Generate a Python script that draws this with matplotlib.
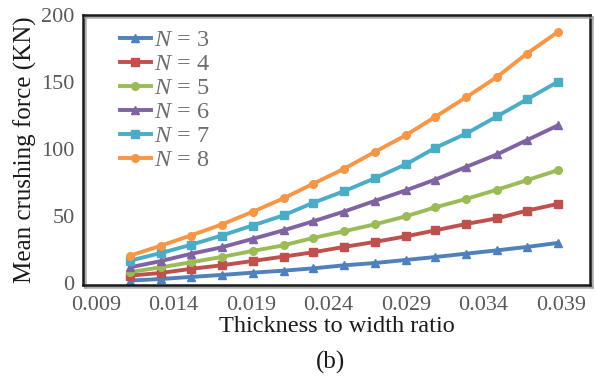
import numpy as np
import matplotlib
matplotlib.use('Agg')
import matplotlib.pyplot as plt
import matplotlib.patheffects as pe

plt.rcParams['font.family'] = ['Liberation Serif', 'DejaVu Serif']
plt.rcParams['mathtext.fontset'] = 'custom'
plt.rcParams['mathtext.it'] = 'Liberation Serif:italic'
plt.rcParams['mathtext.rm'] = 'Liberation Serif'

# thickness to width ratio
ratio = [0.0112, 0.0132, 0.0151, 0.0171, 0.0191, 0.0211, 0.0230, 0.0250,
         0.0270, 0.0290, 0.0309, 0.0329, 0.0349, 0.0368, 0.0388]

# mean crushing force (KN)
n3 = [1.8, 3.0, 4.5, 6.0, 7.7, 9.2, 10.9, 13.2, 14.9, 17.2, 19.4, 21.9, 24.4, 26.9, 29.9]
n4 = [5.5, 7.5, 10.5, 13.2, 16.4, 19.7, 22.9, 26.9, 30.7, 34.8, 39.3, 44.1, 48.3, 54.0, 59.0]
n5 = [8.2, 11.7, 15.4, 19.4, 23.9, 28.1, 33.6, 38.6, 43.8, 49.8, 56.5, 62.8, 69.7, 76.7, 84.2]
n6 = [11.7, 16.4, 21.7, 26.6, 32.9, 39.3, 46.0, 53.3, 61.3, 69.2, 77.2, 86.7, 96.1, 106.6, 117.6]
n7 = [16.7, 22.4, 28.4, 35.4, 42.9, 50.5, 59.8, 68.5, 78.2, 88.6, 100.9, 111.6, 124.5, 137.0, 150.2]
n8 = [20.4, 27.9, 35.4, 43.6, 53.1, 63.2, 74.0, 85.2, 97.9, 110.3, 124.1, 138.7, 154.0, 171.2, 187.3]

labels = ['$N$ = 3', '$N$ = 4', '$N$ = 5', '$N$ = 6', '$N$ = 7', '$N$ = 8']
colors = ['#4F81BD', '#C0504D', '#9BBB59', '#8064A2', '#4BACC6', '#F79646']
markers = ['^', 's', 'o', '^', 's', 'o']

xticks = [0.009, 0.014, 0.019, 0.024, 0.029, 0.034, 0.039]
yticks = [0, 50, 100, 150, 200]

fig = plt.figure(figsize=(5.95, 3.8), dpi=100)
ax = fig.add_axes([0.1395, 0.25, 0.852, 0.7105])

for ys, lab, c, m in zip([n3, n4, n5, n6, n7, n8], labels, colors, markers):
    ax.plot(ratio, ys, color=c, lw=2.8, marker=m, ms=5.5, label=lab)

ax.set_xlim(0.00816, 0.04087)
ax.set_ylim(-1.5, 200)
ax.set_xticks(xticks)
ax.set_xticklabels(['%.3f' % v for v in xticks])
ax.set_yticks(yticks)
ax.tick_params(axis='x', length=0, labelsize=16, labelcolor='#595959', pad=8)
ax.tick_params(axis='y', length=0, labelsize=16, labelcolor='#595959', pad=6)

for s in ax.spines.values():
    s.set_linewidth(1.8)
    s.set_color('#1a1a1a')
    s.set_path_effects([pe.SimpleLineShadow(offset=(1.5, -1.5), shadow_color='#999999', alpha=0.8),
                        pe.Normal()])

ax.set_xlabel('Thickness to width ratio', fontsize=17.5, color='#1a1a1a', labelpad=1)
ax.set_ylabel('Mean crushing force (KN)', fontsize=18, color='#1a1a1a', labelpad=3)

leg = ax.legend(loc='upper left', bbox_to_anchor=(0.04, 1.01), frameon=False,
                fontsize=17.5, handlelength=1.25, handletextpad=0.15, labelspacing=0.08,
                labelcolor='#6d6d6d', borderpad=0.2)

fig.text(0.555, 0.03, '(b)', fontsize=18, color='#1a1a1a', ha='center')

plt.savefig('out.png', dpi=100)
plt.close()
